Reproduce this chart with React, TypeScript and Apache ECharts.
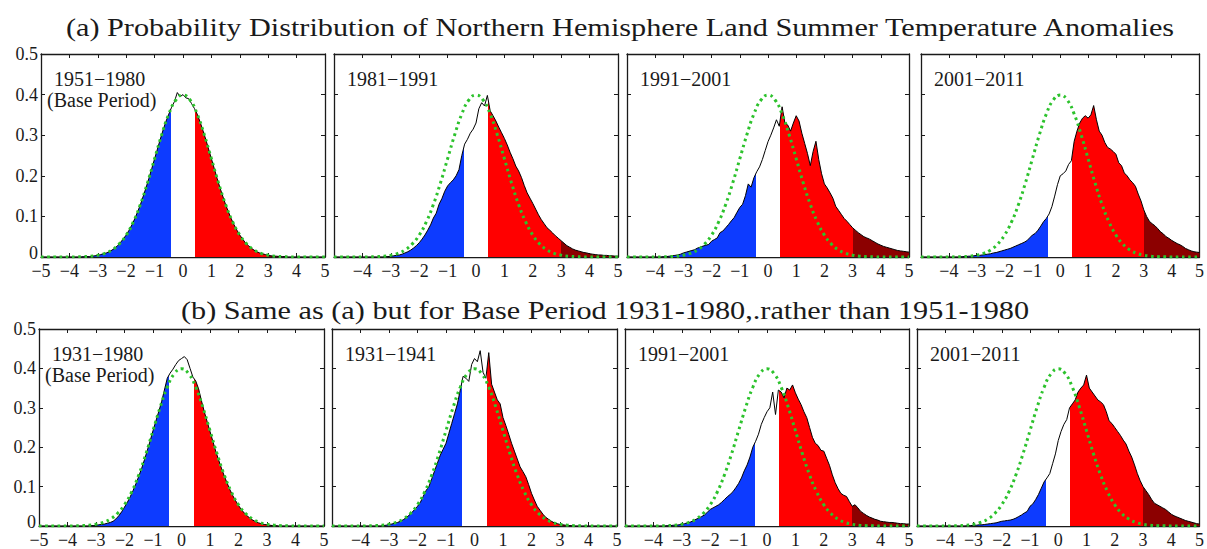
import React, { useEffect, useRef } from "react";
import * as echarts from "echarts";

// ---------- text ----------
const titleA = "(a) Probability Distribution of Northern Hemisphere Land Summer Temperature Anomalies";
const titleB = "(b) Same as (a) but for Base Period 1931-1980,.rather than 1951-1980";
const periodsA = ["1951\u22121980", "1981\u22121991", "1991\u22122001", "2001\u22122011"];
const periodsB = ["1931\u22121980", "1931\u22121941", "1991\u22122001", "2001\u22122011"];
const baseNote = "(Base Period)";

// ---------- axes ----------
const xMin = -5;
const xMax = 5;
const yMax = 0.5;
const coldLimit = -0.43;
const hotLimit = 0.43;
const extremeLimit = 3;

// x grid of the anomaly curves: -5.0 ... 5.0, step 0.1 (101 points)
const anomalyX = Array.from({ length: 101 }, (_, i) => (-50 + i) / 10);
// x grid of the base-period normal curve: -5 ... 5, step 0.25 (41 points)
const normalX = Array.from({ length: 41 }, (_, i) => (-20 + i) / 4);

// green dotted base-period curve
const normalCurve = [
  0, 0, 0, 0, 0.0001, 0.0004, 0.0009, 0.002, 0.0044, 0.0091,
  0.0175, 0.0317, 0.054, 0.0863, 0.1295, 0.1826, 0.242, 0.3011, 0.3521, 0.3867,
  0.3989,
  0.3867, 0.3521, 0.3011, 0.242, 0.1826, 0.1295, 0.0863, 0.054, 0.0317, 0.0175,
  0.0091, 0.0044, 0.002, 0.0009, 0.0004, 0.0001, 0, 0, 0, 0,
];

// ---------- row (a) ----------
const a1951_1980 = [
  0, 0, 0, 0, 0, 0, 0, 0, 0, 0,
  0, 0, 0, 0, 0, 0.001, 0.001, 0.001, 0.002, 0.003,
  0.004, 0.006, 0.008, 0.01, 0.013, 0.017, 0.022, 0.028, 0.036, 0.045,
  0.054, 0.066, 0.079, 0.094, 0.111, 0.129, 0.15, 0.171, 0.194, 0.218,
  0.242, 0.266, 0.29, 0.313, 0.334, 0.352, 0.369, 0.383, 0.405, 0.395,
  0.4, 0.392, 0.39, 0.378, 0.366, 0.352, 0.333, 0.312, 0.29, 0.266,
  0.242, 0.218, 0.194, 0.171, 0.15, 0.129, 0.111, 0.094, 0.079, 0.066,
  0.054, 0.044, 0.035, 0.028, 0.022, 0.017, 0.013, 0.01, 0.008, 0.006,
  0.004, 0.003, 0.002, 0.002, 0.001, 0.001, 0.001, 0, 0, 0,
  0, 0, 0, 0, 0, 0, 0, 0, 0, 0, 0,
];
const a1981_1991 = [
  0, 0, 0, 0, 0, 0, 0, 0, 0, 0,
  0, 0, 0, 0, 0, 0, 0, 0, 0.001, 0.001,
  0.002, 0.003, 0.004, 0.005, 0.007, 0.01, 0.013, 0.017, 0.022, 0.028,
  0.035, 0.044, 0.054, 0.066, 0.079, 0.096, 0.108, 0.13, 0.144, 0.162,
  0.175, 0.183, 0.19, 0.2, 0.215, 0.25, 0.278, 0.29, 0.305, 0.315,
  0.33, 0.365, 0.38, 0.372, 0.398, 0.36, 0.348, 0.335, 0.32, 0.306,
  0.292, 0.276, 0.258, 0.242, 0.224, 0.212, 0.196, 0.176, 0.158, 0.145,
  0.132, 0.118, 0.104, 0.092, 0.082, 0.072, 0.066, 0.059, 0.052, 0.046,
  0.04, 0.034, 0.028, 0.024, 0.02, 0.017, 0.015, 0.013, 0.011, 0.01,
  0.008, 0.007, 0.006, 0.005, 0.005, 0.004, 0.004, 0.003, 0.003, 0.002, 0.002,
];
const a1991_2001 = [
  0, 0, 0, 0, 0, 0, 0, 0, 0, 0,
  0, 0, 0, 0.001, 0.001, 0.002, 0.003, 0.004, 0.005, 0.007,
  0.01, 0.012, 0.014, 0.016, 0.018, 0.022, 0.024, 0.027, 0.029, 0.031,
  0.039, 0.043, 0.047, 0.06, 0.064, 0.072, 0.08, 0.089, 0.097, 0.11,
  0.122, 0.13, 0.151, 0.18, 0.172, 0.195, 0.21, 0.222, 0.24, 0.262,
  0.284, 0.3, 0.318, 0.338, 0.322, 0.37, 0.33, 0.325, 0.31, 0.33,
  0.348, 0.335, 0.305, 0.28, 0.255, 0.225, 0.26, 0.285, 0.24, 0.205,
  0.18, 0.17, 0.158, 0.145, 0.125, 0.115, 0.105, 0.095, 0.088, 0.08,
  0.072, 0.066, 0.06, 0.055, 0.05, 0.047, 0.044, 0.04, 0.036, 0.032,
  0.029, 0.026, 0.024, 0.022, 0.02, 0.018, 0.016, 0.015, 0.014, 0.013, 0.012,
];
const a2001_2011 = [
  0, 0, 0, 0, 0, 0, 0, 0, 0, 0,
  0, 0, 0, 0, 0, 0.001, 0.001, 0.002, 0.002, 0.003,
  0.004, 0.004, 0.005, 0.006, 0.007, 0.008, 0.01, 0.011, 0.013, 0.015,
  0.017, 0.019, 0.021, 0.024, 0.027, 0.03, 0.033, 0.036, 0.04, 0.047,
  0.054, 0.058, 0.066, 0.076, 0.087, 0.095, 0.106, 0.124, 0.15, 0.178,
  0.2, 0.205, 0.212, 0.228, 0.237, 0.285, 0.31, 0.33, 0.342, 0.348,
  0.342, 0.35, 0.373, 0.338, 0.31, 0.3, 0.282, 0.27, 0.266, 0.26,
  0.253, 0.232, 0.225, 0.207, 0.2, 0.19, 0.183, 0.174, 0.155, 0.138,
  0.116, 0.1, 0.088, 0.082, 0.077, 0.07, 0.062, 0.057, 0.05, 0.046,
  0.041, 0.037, 0.033, 0.03, 0.026, 0.021, 0.018, 0.015, 0.013, 0.012, 0.011,
];

// ---------- row (b) ----------
const b1931_1980 = [
  0, 0, 0, 0, 0, 0, 0, 0, 0, 0,
  0, 0, 0, 0, 0, 0, 0, 0, 0.001, 0.001,
  0.002, 0.003, 0.004, 0.005, 0.007, 0.009, 0.012, 0.018, 0.026, 0.036,
  0.048, 0.06, 0.074, 0.09, 0.107, 0.126, 0.146, 0.168, 0.192, 0.216,
  0.242, 0.266, 0.29, 0.315, 0.345, 0.375, 0.388, 0.398, 0.41, 0.42,
  0.425, 0.43, 0.422, 0.4, 0.378, 0.368, 0.348, 0.318, 0.29, 0.265,
  0.24, 0.215, 0.19, 0.168, 0.147, 0.127, 0.109, 0.092, 0.077, 0.064,
  0.052, 0.042, 0.033, 0.026, 0.02, 0.015, 0.011, 0.008, 0.006, 0.004,
  0.003, 0.002, 0.001, 0.001, 0, 0, 0, 0, 0, 0,
  0, 0, 0, 0, 0, 0, 0, 0, 0, 0, 0,
];
const b1931_1941 = [
  0, 0, 0, 0, 0, 0, 0, 0, 0, 0,
  0, 0, 0, 0, 0, 0, 0, 0, 0.001, 0.002,
  0.004, 0.005, 0.007, 0.009, 0.012, 0.016, 0.021, 0.027, 0.034, 0.042,
  0.05, 0.06, 0.075, 0.09, 0.1, 0.12, 0.14, 0.16, 0.18, 0.195,
  0.21, 0.235, 0.26, 0.285, 0.31, 0.345, 0.38, 0.375, 0.367, 0.41,
  0.425, 0.417, 0.445, 0.39, 0.375, 0.44, 0.36, 0.34, 0.32, 0.31,
  0.275, 0.255, 0.233, 0.21, 0.19, 0.17, 0.15, 0.138, 0.125, 0.105,
  0.083, 0.066, 0.05, 0.04, 0.03, 0.022, 0.017, 0.012, 0.008, 0.006,
  0.004, 0.003, 0.002, 0.001, 0.001, 0, 0, 0, 0, 0,
  0, 0, 0, 0, 0, 0, 0, 0, 0, 0, 0,
];
const b1991_2001 = [
  0, 0, 0, 0, 0, 0, 0, 0, 0, 0,
  0, 0, 0, 0, 0, 0.001, 0.001, 0.002, 0.002, 0.003,
  0.004, 0.006, 0.008, 0.01, 0.013, 0.017, 0.02, 0.024, 0.028, 0.035,
  0.042, 0.046, 0.05, 0.054, 0.06, 0.067, 0.074, 0.08, 0.087, 0.097,
  0.108, 0.122, 0.14, 0.155, 0.175, 0.2, 0.215, 0.233, 0.258, 0.275,
  0.29, 0.3, 0.34, 0.283, 0.345, 0.34, 0.325, 0.35, 0.345, 0.358,
  0.338, 0.322, 0.308, 0.29, 0.275, 0.25, 0.225, 0.21, 0.204, 0.192,
  0.19, 0.172, 0.154, 0.13, 0.11, 0.095, 0.083, 0.078, 0.075, 0.062,
  0.05, 0.054, 0.046, 0.037, 0.032, 0.027, 0.023, 0.02, 0.017, 0.015,
  0.012, 0.011, 0.01, 0.009, 0.009, 0.008, 0.007, 0.006, 0.006, 0.005, 0.005,
];
const b2001_2011 = [
  0, 0, 0, 0, 0, 0, 0, 0, 0, 0,
  0, 0, 0, 0, 0, 0, 0, 0, 0.001, 0.001,
  0.002, 0.002, 0.003, 0.003, 0.004, 0.005, 0.006, 0.007, 0.008, 0.01,
  0.012, 0.013, 0.014, 0.015, 0.017, 0.02, 0.024, 0.028, 0.033, 0.037,
  0.05, 0.056, 0.067, 0.08, 0.096, 0.112, 0.122, 0.133, 0.158, 0.183,
  0.217, 0.24, 0.258, 0.27, 0.3, 0.31, 0.32, 0.34, 0.35, 0.358,
  0.383, 0.35, 0.34, 0.33, 0.32, 0.315, 0.308, 0.29, 0.267, 0.26,
  0.25, 0.24, 0.23, 0.218, 0.208, 0.19, 0.175, 0.155, 0.133, 0.115,
  0.1, 0.09, 0.08, 0.068, 0.058, 0.054, 0.05, 0.046, 0.042, 0.036,
  0.03, 0.026, 0.023, 0.02, 0.017, 0.014, 0.012, 0.01, 0.008, 0.006, 0.005,
];

const rowASeries = [a1951_1980, a1981_1991, a1991_2001, a2001_2011];
const rowBSeries = [b1931_1980, b1931_1941, b1991_2001, b2001_2011];

// ---------- layout / style (not data) ----------
const FONT = "'Liberation Serif', 'Times New Roman', serif";
const INK = "#1a1a1a";
const BLUE = "#0d3bff";
const RED = "#ff0000";
const DARK_RED = "#8c0000";
const GREEN = "#2cc22c";

const panels = [
  { left: 41, top: 54, width: 284, height: 203 },
  { left: 334, top: 54, width: 284, height: 203 },
  { left: 627, top: 54, width: 282, height: 203 },
  { left: 921, top: 54, width: 284, height: 203 },
  { left: 39, top: 329, width: 285, height: 200 },
  { left: 332, top: 329, width: 285, height: 200 },
  { left: 625, top: 329, width: 284, height: 200 },
  { left: 917, top: 329, width: 287, height: 200 },
];

function fmtX(v: number, col: number) {
  const r = Math.round(v);
  if (col > 0 && r === xMin) return "";
  return r < 0 ? "\u2212" + -r : String(r);
}
function fmtY(v: number) {
  return Math.abs(v) < 1e-9 ? "{zero|0}" : v.toFixed(1);
}

function buildOption() {
  const curves = [...rowASeries, ...rowBSeries];
  const labels = [...periodsA, ...periodsB];
  const grid: any[] = [];
  const xAxis: any[] = [];
  const yAxis: any[] = [];
  const series: any[] = [];
  const visualMap: any[] = [];
  const graphic: any[] = [];

  const lineStyle = { color: INK, width: 1.3 };
  panels.forEach((p, i) => {
    const col = i % 4;
    grid.push({ ...p, containLabel: false });
    const baseX = {
      type: "value",
      gridIndex: i,
      min: xMin,
      max: xMax,
      interval: 1,
      splitLine: { show: false },
      axisLine: { show: true, onZero: false, lineStyle },
      axisTick: { show: true, inside: true, length: 4, lineStyle: { color: INK, width: 1 } },
    };
    xAxis.push({
      ...baseX,
      position: "bottom",
      axisLabel: {
        show: true,
        showMinLabel: true,
        showMaxLabel: true,
        margin: 5,
        fontFamily: FONT,
        fontSize: 18,
        color: INK,
        formatter: (v: number) => fmtX(v, col),
      },
    });
    xAxis.push({ ...baseX, position: "top", axisLabel: { show: false } });
    const baseY = {
      type: "value",
      gridIndex: i,
      min: 0,
      max: yMax,
      interval: 0.1,
      splitLine: { show: false },
      axisLine: { show: true, onZero: false, lineStyle },
      axisTick: { show: true, inside: true, length: 4, lineStyle: { color: INK, width: 1 } },
    };
    yAxis.push({
      ...baseY,
      position: "left",
      axisLabel: {
        show: col === 0,
        margin: 3,
        fontFamily: FONT,
        fontSize: 18,
        color: INK,
        formatter: fmtY,
        rich: {
          zero: { fontFamily: FONT, fontSize: 18, color: INK, padding: [0, 0, 9, 0] },
        },
      },
    });
    yAxis.push({ ...baseY, position: "right", axisLabel: { show: false } });

    const curve = curves[i];
    series.push({
      type: "line",
      name: "anomaly" + i,
      xAxisIndex: 2 * i,
      yAxisIndex: 2 * i,
      data: anomalyX.map((x, j) => [x, curve[j]]),
      symbol: "none",
      lineStyle: { color: "#000", width: 1 },
      areaStyle: { opacity: 1 },
      z: 2,
    });
    visualMap.push({
      type: "piecewise",
      show: false,
      dimension: 0,
      seriesIndex: series.length - 1,
      pieces: [
        { lt: coldLimit, color: BLUE },
        { gte: coldLimit, lt: hotLimit, color: "#ffffff" },
        { gte: hotLimit, lt: extremeLimit, color: RED },
        { gte: extremeLimit, color: DARK_RED },
      ],
    });
    series.push({
      type: "line",
      name: "base" + i,
      xAxisIndex: 2 * i,
      yAxisIndex: 2 * i,
      data: normalX.map((x, j) => [x, normalCurve[j]]),
      symbol: "none",
      smooth: true,
      lineStyle: { color: GREEN, width: 3, type: [2.6, 3.6] },
      z: 3,
    });

    const tx = p.left + 13;
    const ty = p.top + 25;
    graphic.push({
      type: "text",
      x: tx,
      y: ty,
      z: 10,
      style: {
        text: labels[i],
        fontFamily: FONT,
        fontSize: 20,
        fill: INK,
        align: "left",
        verticalAlign: "middle",
        textAlign: "left",
        textVerticalAlign: "middle",
      },
    });
    if (col === 0) {
      graphic.push({
        type: "text",
        x: p.left + 6,
        y: ty + 21,
        z: 10,
        style: {
          text: baseNote,
          fontFamily: FONT,
          fontSize: 20,
          fill: INK,
          align: "left",
          verticalAlign: "middle",
          textAlign: "left",
          textVerticalAlign: "middle",
        },
      });
    }
  });

  const titleStyle = {
    fontFamily: FONT,
    fontSize: 25,
    fill: INK,
    align: "center",
    verticalAlign: "middle",
    textAlign: "center",
    textVerticalAlign: "middle",
  };
  graphic.push({ type: "text", x: 620, y: 27, scaleX: 1.21, style: { ...titleStyle, text: titleA } });
  graphic.push({ type: "text", x: 605, y: 310, scaleX: 1.21, style: { ...titleStyle, text: titleB } });

  return {
    animation: false,
    backgroundColor: "#ffffff",
    grid,
    xAxis,
    yAxis,
    visualMap,
    series,
    graphic,
  };
}

export default function App() {
  const ref = useRef<HTMLDivElement>(null);
  useEffect(() => {
    if (!ref.current) return;
    const chart = echarts.init(ref.current, undefined, { renderer: "svg" });
    chart.setOption(buildOption() as any);
    return () => chart.dispose();
  }, []);
  return (
    <div
      ref={ref}
      style={{ position: "absolute", left: 0, top: 0, width: 1207, height: 549, background: "#fff" }}
    />
  );
}
